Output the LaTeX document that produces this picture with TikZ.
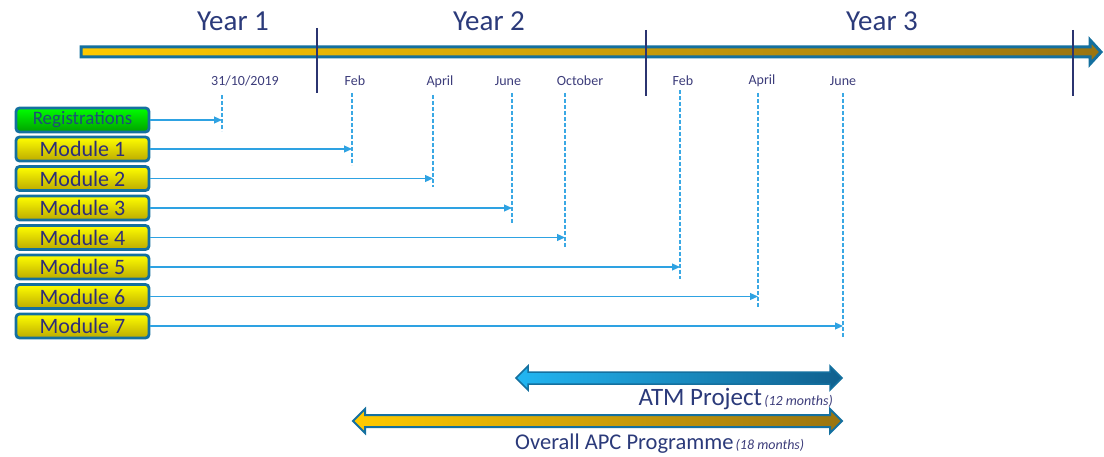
\documentclass[tikz,border=0pt]{standalone}
\usepackage{fontspec}
\setmainfont{Carlito}
\usetikzlibrary{arrows.meta}
\definecolor{navy}{HTML}{2B3A7A}
\definecolor{datec}{HTML}{3C3C7A}
\definecolor{bordb}{HTML}{14709F}
\definecolor{connc}{HTML}{2EA2E2}
\definecolor{dashc}{HTML}{3AA8E4}
\definecolor{divc}{HTML}{2B3470}
\definecolor{goldA}{HTML}{FFCA00}
\definecolor{goldB}{HTML}{9A7410}
\definecolor{blueA}{HTML}{22B6F2}
\definecolor{blueB}{HTML}{10608E}
\definecolor{yelA}{HTML}{FFFF00}
\definecolor{yelB}{HTML}{BCAA00}
\definecolor{grnA}{HTML}{00FF00}
\definecolor{grnB}{HTML}{00A000}
\definecolor{modtxt}{HTML}{2E2E78}
\definecolor{regtxt}{HTML}{1E4E78}
\tikzset{
  modbox/.style={draw=bordb, line width=2.8pt, rounded corners=3.5pt,
    top color=yelA, bottom color=yelB, minimum width=133pt, minimum height=24pt,
    inner sep=0pt, text=modtxt, font=\fontsize{22}{22}\selectfont},
  regbox/.style={modbox, top color=grnA, bottom color=grnB, text=regtxt,
    font=\fontsize{19}{19}\selectfont},
  datelbl/.style={anchor=base, text=datec, font=\fontsize{14}{14}\selectfont, inner sep=0pt},
  yearlbl/.style={anchor=base, text=navy, font=\fontsize{29}{29}\selectfont, inner sep=0pt},
  dashln/.style={draw=dashc, line width=1.2pt, dash pattern=on 4pt off 2pt},
  conn/.style={draw=connc, line width=1.2pt, -{Triangle[length=8pt,width=7pt]}},
  divln/.style={draw=divc, line width=1.3pt},
}
\begin{document}
\begin{tikzpicture}[x=1pt,y=-1pt]
\useasboundingbox (0,0) rectangle (1104,457);

% main timeline arrow
\shadedraw[left color=goldA, right color=goldB, draw=bordb, line width=3pt, line join=miter]
  (81,47) -- (1090,47) -- (1090,40) -- (1101,52) -- (1090,64) -- (1090,57) -- (81,57) -- cycle;

% year dividers
\coordinate (y1t) at (317,28); \coordinate (y1b) at (317,93);
\coordinate (y2t) at (646,30); \coordinate (y2b) at (646,96);
\coordinate (y3t) at (1073,30); \coordinate (y3b) at (1073,96);
\draw[divln] (y1t) -- (y1b);
\draw[divln] (y2t) -- (y2b);
\draw[divln] (y3t) -- (y3b);

% year labels
\node[yearlbl] (yr1) at (233,31) {Year 1};
\node[yearlbl] (yr2) at (489,31) {Year 2};
\node[yearlbl] (yr3) at (882,31) {Year 3};

% date labels
\node[datelbl] (t0) at (245,86) {31/10/2019};
\node[datelbl] (t1) at (355,86) {Feb};
\node[datelbl] (t2) at (440,86) {April};
\node[datelbl] (t3) at (508,86) {June};
\node[datelbl] (t4) at (580,86) {October};
\node[datelbl] (t5) at (683,86) {Feb};
\node[datelbl] (t6) at (762,85) {April};
\node[datelbl] (t7) at (843,86) {June};

% dashed verticals
\coordinate (d0t) at (222,95);  \coordinate (d0b) at (222,131);
\coordinate (d1t) at (352,93);  \coordinate (d1b) at (352,165);
\coordinate (d2t) at (433,95);  \coordinate (d2b) at (433,187);
\coordinate (d3t) at (512,93);  \coordinate (d3b) at (512,224);
\coordinate (d4t) at (565,93);  \coordinate (d4b) at (565,248);
\coordinate (d5t) at (680,90);  \coordinate (d5b) at (680,279);
\coordinate (d6t) at (758,93);  \coordinate (d6b) at (758,307);
\coordinate (d7t) at (843,93);  \coordinate (d7b) at (843,337);
\foreach \i in {0,...,7} {\draw[dashln] (d\i t) -- (d\i b);}

% boxes
\node[regbox] (reg) at (82.5,120) {Registrations};
\node[modbox] (m1) at (82.5,149) {Module 1};
\node[modbox] (m2) at (82.5,178.5) {Module 2};
\node[modbox] (m3) at (82.5,208) {Module 3};
\node[modbox] (m4) at (82.5,237.5) {Module 4};
\node[modbox] (m5) at (82.5,267) {Module 5};
\node[modbox] (m6) at (82.5,296.5) {Module 6};
\node[modbox] (m7) at (82.5,326) {Module 7};

% connectors
\draw[conn] (reg.east) -- (reg.east -| d0t);
\draw[conn] (m1.east) -- (m1.east -| d1t);
\draw[conn] (m2.east) -- (m2.east -| d2t);
\draw[conn] (m3.east) -- (m3.east -| d3t);
\draw[conn] (m4.east) -- (m4.east -| d4t);
\draw[conn] (m5.east) -- (m5.east -| d5t);
\draw[conn] (m6.east) -- (m6.east -| d6t);
\draw[conn] (m7.east) -- (m7.east -| d7t);

% ATM project arrow
\shadedraw[left color=blueA, right color=blueB, draw=bordb, line width=1.5pt, line join=miter]
  (516,378) -- (528,366) -- (528,372) -- (830,372) -- (830,366) -- (842,378)
  -- (830,390) -- (830,384) -- (528,384) -- (528,390) -- cycle;
\node[anchor=base east, inner sep=0pt, text=navy] (atm) at (833,405)
  {{\fontsize{25}{25}\selectfont ATM Project} {\fontsize{14}{14}\selectfont\itshape\color{datec}(12 months)}};

% APC programme arrow
\shadedraw[left color=goldA, right color=goldB, draw=bordb, line width=2pt, line join=miter]
  (353,421) -- (365,409) -- (365,415) -- (830,415) -- (830,409) -- (842,421)
  -- (830,433) -- (830,427) -- (365,427) -- (365,433) -- cycle;
\node[anchor=base west, inner sep=0pt, text=navy] (apc) at (515,449)
  {{\fontsize{22.5}{22.5}\selectfont Overall APC Programme} {\fontsize{14}{14}\selectfont\itshape\color{datec}(18 months)}};
\end{tikzpicture}
\end{document}
